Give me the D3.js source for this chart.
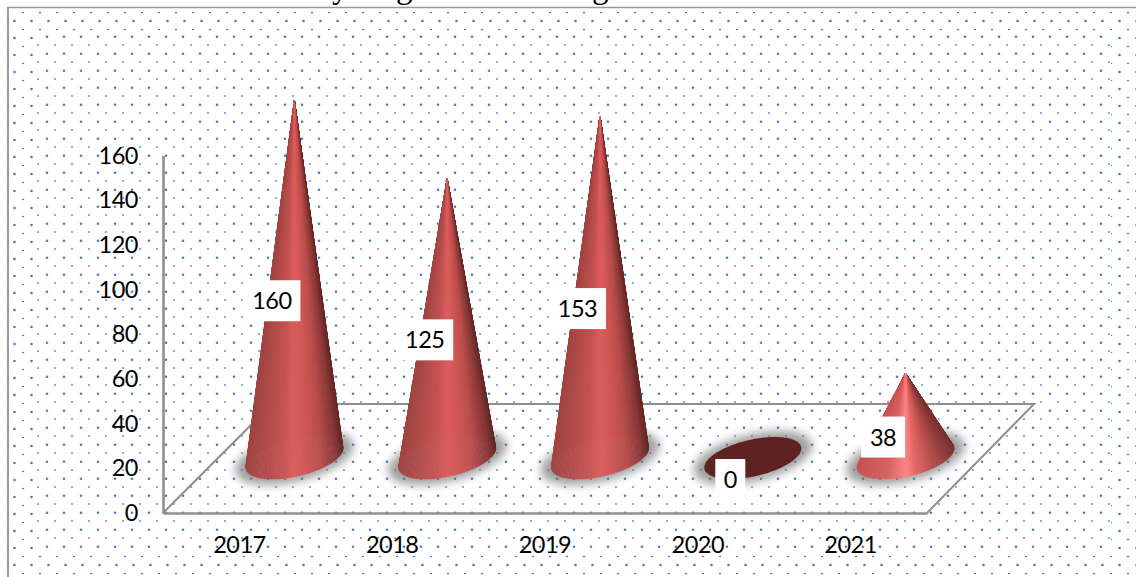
<!DOCTYPE html>
<html><head><meta charset="utf-8">
<script src="https://cdn.jsdelivr.net/npm/d3@7"></script>
<style>html,body{margin:0;padding:0;background:#fff;overflow:hidden}svg{display:block}text{font-family:Lato,sans-serif}</style>
</head><body><svg id="c" width="1136" height="577"></svg>
<script>
const years = ["2017","2018","2019","2020","2021"];
const counts = [160,125,153,0,38];
const yTicks = [0,20,40,60,80,100,120,140,160];
const titleGlyphs = ["y","g","g"];
const titleX = [332,396,592];

const W=1136,H=577;
const floorDepth=109, coneDepth=55, shiftX=55;
const left=163,right=927,bottom=513;
const svg=d3.select("#c");
const defs=svg.append("defs");
const dot="#4a7cc4";

function pattern(id,atoms){
  const p=defs.append("pattern").attr("id",id).attr("patternUnits","userSpaceOnUse").attr("width",17).attr("height",17);
  atoms.forEach(a=>p.append("ellipse").attr("cx",a[0]).attr("cy",a[1]).attr("rx",a[2]).attr("ry",a[3]).attr("fill",dot));
}
pattern("outer",[[14.5,4,1.35,1.35],[6,12.5,1.25,.8]]);
pattern("inner",[[13,2.8,1.3,1.3],[4,11,1.25,.8]]);
const blur=defs.append("filter").attr("id","soft").attr("x","-40%").attr("y","-60%").attr("width","180%").attr("height","220%");
blur.append("feGaussianBlur").attr("stdDeviation",5);

// background
svg.append("rect").attr("width",W).attr("height",H).attr("fill","#fff");
svg.append("rect").attr("x",9).attr("y",8).attr("width",W-9).attr("height",H-8).attr("fill","url(#outer)");
svg.append("rect").attr("x",35).attr("y",33).attr("width",1076).attr("height",518).attr("fill","#fff");
svg.append("rect").attr("x",35).attr("y",33).attr("width",1076).attr("height",518).attr("fill","url(#inner)");
svg.append("line").attr("x1",8).attr("x2",8).attr("y1",7).attr("y2",H).attr("stroke","#999").attr("stroke-width",2);
svg.append("line").attr("x1",7).attr("x2",W).attr("y1",7.5).attr("y2",7.5).attr("stroke","#999").attr("stroke-width",1.6);

// clipped title fragments
svg.append("g").selectAll("text").data(titleGlyphs).join("text")
  .attr("x",(d,i)=>titleX[i]).attr("y",-2)
  .style("font-family","'Liberation Serif',serif").style("font-size","33px").attr("fill","#000").text(d=>d);

// scales
const x=d3.scaleBand().domain(years).range([left,right]);
const y=d3.scaleLinear().domain([0,160]).range([bottom,155.5]);

// floor
const floorLine=d3.line();
svg.append("path").attr("fill","none").attr("stroke","#8f8f8f").attr("stroke-width",2)
  .attr("d",floorLine([[left,bottom],[left+floorDepth,bottom-floorDepth],[right+floorDepth-2,bottom-floorDepth],[right,bottom]]));

// axes
function styleAxis(g){
  g.select(".domain").attr("stroke","#8f8f8f").attr("stroke-width",2.6);
  g.selectAll(".tick line").remove();
  g.selectAll("text").style("font-family","Lato,sans-serif").style("font-size","23.5px").style("letter-spacing","-0.5px").attr("fill","#000");
}
svg.append("g").attr("transform",`translate(${left},0)`)
  .call(d3.axisLeft(y).tickValues(yTicks).tickSize(0).tickPadding(25)).call(styleAxis);
svg.append("g").attr("transform",`translate(0,${bottom})`)
  .call(d3.axisBottom(x).tickSize(0).tickPadding(23)).call(styleAxis);

// cones
const a=49.6,b=18.3,theta=-12.9*Math.PI/180;
const tallStops=d3.scaleLinear().domain([-1,-.7,-.3,0,.25,.55,.85,1])
  .range(["#a04644","#b04c4a","#c45352","#dc5e5e","#d05857","#b94e4c","#8a3a38","#642a28"]);
const shortStops=d3.scaleLinear().domain([-1,-.4,.02,.18,.6,1])
  .range(["#c85250","#d96160","#ff8585","#e86a68","#b34a48","#7a3230"]);
const ts=d3.range(0,180).map(i=>i/180*2*Math.PI);
const ell=(cx,cy,t)=>{const u=a*Math.cos(t),v=b*Math.sin(t);
  return [cx+u*Math.cos(theta)-v*Math.sin(theta),cy+u*Math.sin(theta)+v*Math.cos(theta)];};
const poly=d3.line().curve(d3.curveLinearClosed);

const data=years.map((yr,i)=>({yr,v:counts[i],cx:x(yr)+x.bandwidth()/2+shiftX,cy:bottom-coneDepth,ay:y(counts[i])-coneDepth}));

const groups=svg.append("g").selectAll("g").data(data).join("g");
groups.append("path").attr("filter","url(#soft)").attr("fill","#787878").attr("opacity",.72)
  .attr("d",d=>poly(ts.map(t=>{const p=ell(d.cx,d.cy,t);return [d.cx+(p[0]-d.cx)*1.22,d.cy+(p[1]-d.cy)*1.28];})));
groups.each(function(d){
  const g=d3.select(this);
  if(d.v===0){
    g.append("path").attr("fill","#5e2220").attr("d",poly(ts.map(t=>ell(d.cx,d.cy,t))));
    return;
  }
  const col=d.v<60?shortStops:tallStops;
  const order=ts.slice().sort((p,q)=>Math.sin(p)-Math.sin(q));
  const dt=ts[1]-ts[0];
  order.forEach(t=>{
    const p=ell(d.cx,d.cy,t),q=ell(d.cx,d.cy,t+dt);
    const c=col(Math.max(-1,Math.min(1,((p[0]+q[0])/2-d.cx)/48.5)));
    g.append("path").attr("fill",c).attr("stroke",c).attr("stroke-width",.5)
      .attr("d",poly([[d.cx,d.ay],p,q]));
  });
});

// data labels
const boxW={1:30,2:44,3:57};
const labels=svg.append("g").selectAll("g").data(data).join("g")
  .attr("transform",d=>`translate(${d.cx-22.5},${(d.cy+d.ay)/2+21.5})`);
labels.append("rect").attr("x",d=>-boxW[String(d.v).length]/2).attr("y",-20.5)
  .attr("width",d=>boxW[String(d.v).length]).attr("height",41).attr("fill","#fff");
labels.append("text").attr("text-anchor","middle").attr("dy","0.36em")
  .style("font-size","23.5px").style("letter-spacing","-0.5px").attr("fill","#000").text(d=>d.v);
</script></body></html>
